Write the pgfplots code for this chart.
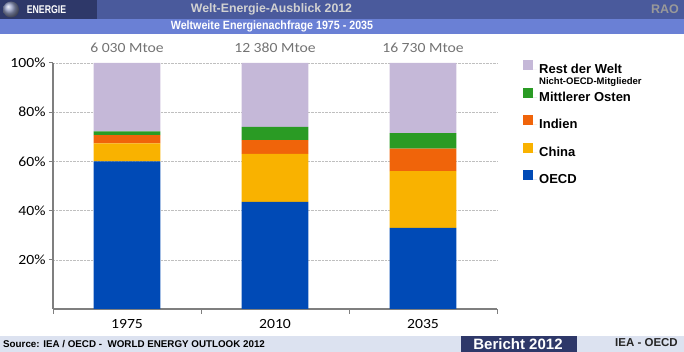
\documentclass[border=0pt]{standalone}
\usepackage{pgfplots}
\pgfplotsset{compat=1.18}
\usepackage{fontspec}
\setmainfont{Liberation Sans}
\newfontfamily\carlito{Carlito}[FakeStretch=1.12]
\newfontfamily\narrow{Liberation Sans}[FakeStretch=0.78]
\newfontfamily\semnarrow{Liberation Sans}[FakeStretch=0.89]
\definecolor{cOECD}{HTML}{004AB6}
\definecolor{cChina}{HTML}{F9B200}
\definecolor{cIndien}{HTML}{F0640A}
\definecolor{cME}{HTML}{2A9B24}
\definecolor{cRest}{HTML}{C5B8D8}
\definecolor{hdrA}{HTML}{4A5A9C}
\definecolor{hdrBox}{HTML}{2E3869}
\definecolor{hdrB}{HTML}{6A80D5}
\definecolor{ftr}{HTML}{DCE2F0}
\definecolor{axgray}{HTML}{7F7F7F}
\begin{document}
\begin{tikzpicture}
\path[use as bounding box] (0pt,0pt) rectangle (684pt,352pt);
% header
\fill[hdrA] (0pt,333pt) rectangle (684pt,352pt);
\fill[hdrBox] (0pt,333pt) rectangle (97pt,352pt);
\fill[hdrB] (0pt,318pt) rectangle (684pt,333pt);
\shade[ball color=hdrA!60!white] (11pt,342.5pt) circle (8pt);
\node[text=white, font=\narrow\bfseries\fontsize{11.2}{13}\selectfont] at (46.5pt,342.5pt) {ENERGIE};
\node[text=black!18, font=\bfseries\fontsize{12.3}{14}\selectfont] at (271.5pt,342.5pt) {Welt-Energie-Ausblick 2012};
\node[text=black!40, font=\bfseries\fontsize{12.5}{14}\selectfont, anchor=east, inner sep=0pt] at (679pt,342.5pt) {RAO};
\node[text=white, font=\semnarrow\bfseries\fontsize{12}{14}\selectfont] at (272pt,326pt) {Weltweite Energienachfrage 1975 - 2035};
% footer
\fill[ftr] (0pt,0pt) rectangle (684pt,16pt);
\fill[hdrBox] (461pt,0pt) rectangle (577pt,16pt);
\node[anchor=west, inner sep=0pt, font=\bfseries\fontsize{9.8}{11}\selectfont] at (3pt,7.5pt) {Source: IEA / OECD -\ \ WORLD ENERGY OUTLOOK 2012};
\node[text=white, inner sep=0pt, font=\bfseries\fontsize{15}{17}\selectfont] at (518pt,8pt) {Bericht 2012};
\node[anchor=east, inner sep=0pt, text=black!85, font=\bfseries\fontsize{11.5}{13}\selectfont] at (678pt,9pt) {IEA - OECD};
\begin{axis}[
  at={(53pt,43pt)}, anchor=south west, scale only axis,
  width=444pt, height=246pt,
  ybar stacked, bar width=0.45,
  xmin=-0.5, xmax=2.5, ymin=0, ymax=100,
  enlargelimits=false, clip=false,
  xtick={0,1,2}, xticklabels={1975,2010,2035},
  major x tick style={draw=none},
  minor xtick={-0.5,0.5,1.5,2.5},
  ytick={20,40,60,80,100},
  yticklabel={\pgfmathprintnumber{\tick}\%},
  /pgf/number format/assume math mode=true,
  ymajorgrids, grid style={densely dotted, black!25},
  axis x line*=bottom, axis y line*=left,
  axis line style={axgray, line width=1.5pt, -},
  tick align=outside, major tick length=4pt, minor tick length=5pt,
  tick style={axgray, line width=1pt},
  ticklabel style={font=\carlito\fontsize{14}{16}\selectfont, text=black},
  xticklabel style={yshift=-3pt},
  reverse legend,
  legend cell align=left,
  legend style={draw=none, fill=none, at={(1,1)}, anchor=north west, xshift=26pt, yshift=3.5pt,
    font=\bfseries\fontsize{13}{15}\selectfont, row sep=10.5pt, inner sep=0pt},
  legend image code/.code={\fill[#1, draw=none] (0pt,-0.5pt) rectangle (10pt,9.5pt); \path (0pt,0pt) -- (14pt,0pt);},
]
\addplot+[fill=cOECD, draw=none] coordinates {(0,60.0) (1,43.5) (2,33.0)};
\addplot+[fill=cChina, draw=none] coordinates {(0,7.3) (1,19.6) (2,23.0)};
\addplot+[fill=cIndien, draw=none] coordinates {(0,3.4) (1,5.5) (2,9.2)};
\addplot+[fill=cME, draw=none] coordinates {(0,1.5) (1,5.4) (2,6.3)};
\addplot+[fill=cRest, draw=none] coordinates {(0,27.8) (1,26.0) (2,28.5)};
\legend{OECD, China, Indien, Mittlerer Osten, {\begin{tabular}[t]{@{}l@{}}Rest der Welt\\[-4.5pt]{\fontsize{9.5}{10}\selectfont Nicht-OECD-Mitglieder}\end{tabular}}}
\node[text=black!55, font=\carlito\fontsize{14}{16}\selectfont] at (axis cs:0,100) [above=7pt] {6 030 Mtoe};
\node[text=black!55, font=\carlito\fontsize{14}{16}\selectfont] at (axis cs:1,100) [above=7pt] {12 380 Mtoe};
\node[text=black!55, font=\carlito\fontsize{14}{16}\selectfont] at (axis cs:2,100) [above=7pt] {16 730 Mtoe};
\end{axis}
\end{tikzpicture}
\end{document}
